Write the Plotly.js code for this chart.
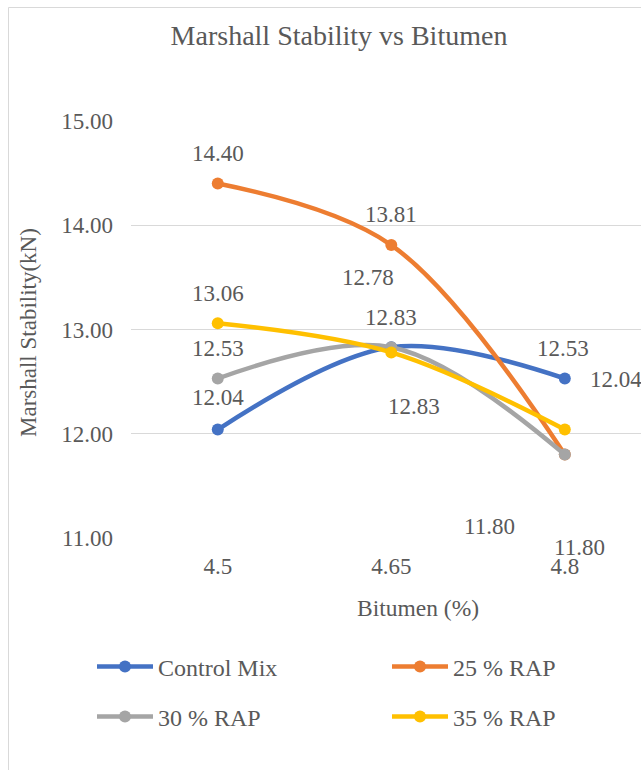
<!DOCTYPE html>
<html>
<head>
<meta charset="utf-8">
<script src="https://cdn.plot.ly/plotly-3.0.1.min.js"></script>
<style>html,body{margin:0;padding:0;background:#fff;}#chart{width:641px;height:770px;}#err{position:absolute;left:150px;top:60px;color:red;font:12px monospace;white-space:pre-wrap;width:480px;}</style>
</head>
<body>
<div id="chart"></div>
<div id="err"></div>
<script>
window.onerror = function(m){ document.getElementById('err').textContent += 'ERR: ' + m + '\n'; };
// ---- data ----
const categories = ['4.5', '4.65', '4.8'];
const seriesNames = ['Control Mix', '25 % RAP', '30 % RAP', '35 % RAP'];
const controlMix = [12.04, 12.83, 12.53];
const rap25 = [14.40, 13.81, 11.80];
const rap30 = [12.53, 12.83, 11.80];
const rap35 = [13.06, 12.78, 12.04];

// ---- styling ----
const colors = ['#4472C4', '#ED7D31', '#A5A5A5', '#FFC000'];
const FONT = 'Liberation Serif';
const TXT = '#595959';
// data-label pixel offsets (dx, dy screen px) per series per point
const labelOffsets = [
  [[0, -32], [23, 59], [-2, -30]],
  [[0, -30], [0, -31], [-75, 72]],
  [[0, -30], [0, -30], [15, 93]],
  [[0, -30], [-23, -75], [51, -50]]
];
// legend item positions (container px: left, center-y)
const legendPos = [[92, 667], [387, 667], [92, 717], [387, 717]];
const legendIds = ['legend', 'legend2', 'legend3', 'legend4'];

const allSeries = [controlMix, rap25, rap30, rap35];
const traces = allSeries.map((vals, i) => ({
  type: 'scatter',
  mode: 'lines+markers',
  name: seriesNames[i],
  x: categories,
  y: vals,
  line: {color: colors[i], width: 4.5, shape: 'spline', smoothing: 1},
  marker: {color: colors[i], size: 12},
  legend: legendIds[i],
  hoverinfo: 'skip'
}));

const annotations = [];
allSeries.forEach((vals, i) => {
  vals.forEach((v, j) => {
    annotations.push({
      x: j, y: v, xref: 'x', yref: 'y',
      text: v.toFixed(2), showarrow: false,
      xanchor: 'center', yanchor: 'middle',
      xshift: labelOffsets[i][j][0], yshift: -labelOffsets[i][j][1],
      font: {family: FONT, size: 23, color: TXT}
    });
  });
});
// axis titles
annotations.push({
  text: 'Marshall Stability(kN)', textangle: -90, showarrow: false,
  xref: 'paper', yref: 'paper', x: (28 - 131) / 510, y: (538 - 333) / 417,
  xanchor: 'center', yanchor: 'middle',
  font: {family: FONT, size: 23, color: TXT}
});
annotations.push({
  text: 'Bitumen (%)', showarrow: false,
  xref: 'paper', yref: 'paper', x: (418 - 131) / 510, y: (538 - 608) / 417,
  xanchor: 'center', yanchor: 'middle',
  font: {family: FONT, size: 23.5, color: TXT}
});

const layout = {
  width: 641, height: 770,
  margin: {l: 131, r: 0, t: 121, b: 232, pad: 0},
  paper_bgcolor: '#ffffff', plot_bgcolor: '#ffffff',
  font: {family: FONT, color: TXT},
  title: {
    text: 'Marshall Stability vs Bitumen',
    font: {family: FONT, size: 28, color: TXT},
    xref: 'container', yref: 'container',
    x: 339 / 641, y: 1 - 35 / 770, xanchor: 'center', yanchor: 'middle'
  },
  xaxis: {
    type: 'category', range: [-0.5, 2.439],
    showgrid: false, zeroline: false, showline: false,
    ticks: '', ticklabelstandoff: 12,
    tickfont: {family: FONT, size: 23, color: TXT}
  },
  yaxis: {
    range: [11, 15], dtick: 1, tick0: 11, tickformat: '.2f',
    showgrid: true, gridcolor: '#D9D9D9', gridwidth: 1,
    zeroline: false, showline: false, ticks: '', ticklabelstandoff: 17,
    tickfont: {family: FONT, size: 23, color: TXT}
  },
  showlegend: true,
  annotations: annotations,
  shapes: [{
    type: 'rect', xref: 'paper', yref: 'paper', layer: 'below',
    x0: (8.5 - 131) / 510, x1: (700 - 131) / 510,
    y0: (538 - 800) / 417, y1: (538 - 7.5) / 417,
    line: {color: '#D9D9D9', width: 1}, fillcolor: 'rgba(0,0,0,0)'
  }]
};
legendIds.forEach((id, i) => {
  layout[id] = {
    orientation: 'h', xref: 'container', yref: 'container',
    x: legendPos[i][0] / 641, y: 1 - legendPos[i][1] / 770,
    xanchor: 'left', yanchor: 'middle', itemwidth: 56,
    font: {family: FONT, size: 24, color: TXT},
    bgcolor: 'rgba(0,0,0,0)'
  };
});

try {
  Plotly.newPlot('chart', traces, layout, {displayModeBar: false, staticPlot: true})
    .catch(function(e){ document.getElementById('err').textContent += 'P: ' + e + '\n'; });
} catch (e) {
  document.getElementById('err').textContent += 'T: ' + e + '\n' + e.stack;
}
</script>
</body>
</html>
